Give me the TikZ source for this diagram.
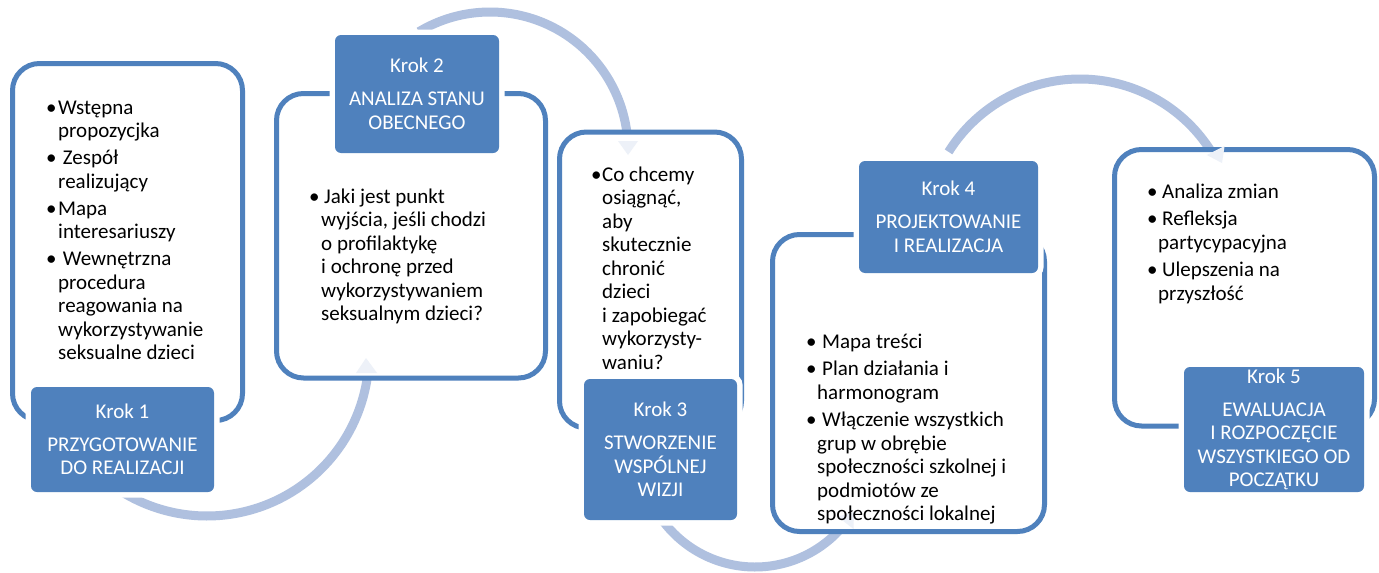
\documentclass[tikz,border=0pt]{standalone}
\usepackage{fontspec}
\setmainfont{Carlito}
\definecolor{kblue}{HTML}{4F81BD}
\definecolor{arcblue}{HTML}{AFC0DF}
\definecolor{headfaint}{HTML}{EDF1F8}
\newcommand\bu[1]{\makebox[#1][l]{•}}
\newcommand\ci[1]{\hspace*{#1}}
\newcommand\fl{\rule{0pt}{18pt}}
\begin{document}
\begin{tikzpicture}[x=1pt,y=-1pt,
  outbox/.style={draw=kblue, line width=5pt, fill=white, rounded corners=27pt, inner sep=0pt},
  kbox/.style={fill=kblue, rounded corners=6pt, preaction={draw=white, line width=11pt},
    text=white, align=center, inner sep=0pt, font=\fontsize{21pt}{23.5pt}\selectfont},
  body/.style={align=left, inner sep=0pt, anchor=north west, font=\fontsize{21pt}{23.5pt}\selectfont},
  arcline/.style={draw=arcblue, line width=9pt},
  ahead/.style={fill=headfaint}]
\useasboundingbox[fill=white] (0,0) rectangle (1379,573);

% arcs
\draw[arcline] plot[domain=121:5, samples=80] ({207+162*cos(\x)},{354+162*sin(\x)});
\draw[arcline] plot[domain=-121:-3, samples=80] ({490+138*cos(\x)},{150+138*sin(\x)});
\draw[arcline] plot[domain=143:36, samples=80] ({755+115*cos(\x)},{452+115*sin(\x)});
\draw[arcline] plot[domain=-148:-30, samples=80] ({1080+155*cos(\x)},{234+155*sin(\x)});

% outline boxes
\node[outbox, minimum width=230pt, minimum height=357pt] (b1) at (127.5,242) {};
\node[outbox, minimum width=269pt, minimum height=284.5pt] (b2) at (411,235.75) {};
\node[outbox, minimum width=182pt, minimum height=296pt] (b3) at (650.5,280) {};
\node[outbox, minimum width=272pt, minimum height=297pt] (b4) at (908.5,383) {};
\node[outbox, minimum width=260pt, minimum height=276.5pt] (b5) at (1244.5,287.75) {};

% faint arrowheads
\fill[ahead] (366,358) -- (356,373) -- (377,373) -- cycle;
\fill[ahead] (628,155) -- (618,141) -- (638,141) -- cycle;
\fill[ahead] (854,512) -- (853.5,529) -- (837.7,516.6) -- cycle;
\fill[ahead] (1222,163) -- (1224.6,146) -- (1206.8,155) -- cycle;

% body texts
\node[body] (t1) at (46,96) {\fl\bu{12pt}Wstępna\\\ci{12pt}propozycjka\\[3.5pt]\bu{12pt}\ Zespół\\\ci{12pt}realizujący\\[3.5pt]\bu{12pt}Mapa\\\ci{12pt}interesariuszy\\[3.5pt]\bu{12pt}\ Wewnętrzna\\\ci{12pt}procedura\\\ci{12pt}reagowania na\\\ci{12pt}wykorzystywanie\\\ci{12pt}seksualne dzieci};
\node[body] (t2) at (309,185) {\fl\bu{15pt}Jaki jest punkt\\\ci{12pt}wyjścia, jeśli chodzi\\\ci{12pt}o profilaktykę\\\ci{12pt}i ochronę przed\\\ci{12pt}wykorzystywaniem\\\ci{12pt}seksualnym dzieci?};
\node[body] (t3) at (591,163) {\fl\bu{11pt}Co chcemy\\\ci{11pt}osiągnąć,\\\ci{11pt}aby\\\ci{11pt}skutecznie\\\ci{11pt}chronić\\\ci{11pt}dzieci\\\ci{11pt}i zapobiegać\\\ci{11pt}wykorzysty-\\\ci{11pt}waniu?};
\node[body] (t4) at (806,330) {\fl\bu{16pt}Mapa treści\\[4pt]\bu{16pt}Plan działania i\\\ci{11pt}harmonogram\\[4pt]\bu{16pt}Włączenie wszystkich\\\ci{11pt}grup w obrębie\\\ci{11pt}społeczności szkolnej i\\\ci{11pt}podmiotów ze\\\ci{11pt}społeczności lokalnej};
\node[body] (t5) at (1147,180) {\fl\bu{15pt}Analiza zmian\\[4pt]\bu{15pt}Refleksja\\\ci{11pt}partycypacyjna\\[4pt]\bu{15pt}Ulepszenia na\\\ci{11pt}przyszłość};

% step boxes
\node[kbox, minimum width=183pt, minimum height=105pt] (k1) at (122.5,439.5) {Krok 1\\[9.5pt]PRZYGOTOWANIE\\DO REALIZACJI};
\node[kbox, minimum width=164pt, minimum height=118pt] (k2) at (417,94) {Krok 2\\[9.5pt]ANALIZA STANU\\OBECNEGO};
\node[kbox, minimum width=153pt, minimum height=141pt] (k3) at (660.5,449.5) {Krok 3\\[9.5pt]STWORZENIE\\WSPÓLNEJ\\WIZJI};
\node[kbox, minimum width=179pt, minimum height=112pt] (k4) at (948.5,217) {Krok 4\\[9.5pt]PROJEKTOWANIE\\I REALIZACJA};
\node[kbox, minimum width=180pt, minimum height=125pt] (k5) at (1274,429.5) {Krok 5\\[9.5pt]EWALUACJA\\I ROZPOCZĘCIE\\WSZYSTKIEGO OD\\POCZĄTKU};
\end{tikzpicture}
\end{document}
